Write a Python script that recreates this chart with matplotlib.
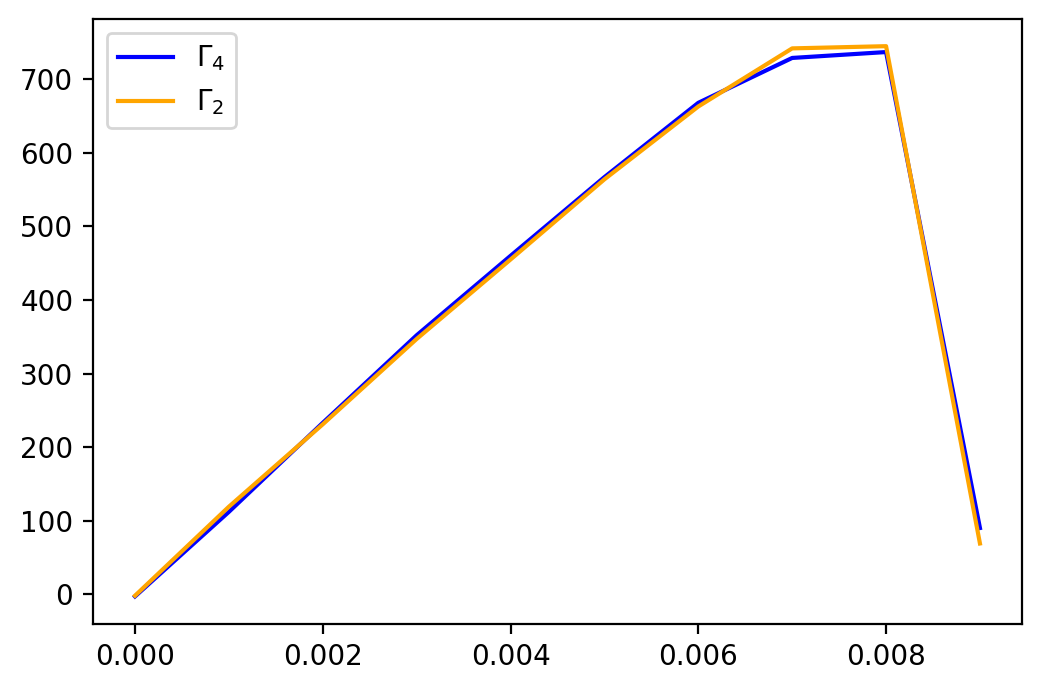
import numpy as np
import matplotlib
matplotlib.use("Agg")
import matplotlib.pyplot as plt

x = [0.000, 0.001, 0.002, 0.003, 0.004, 0.005, 0.006, 0.007, 0.008, 0.009]
gamma4 = [-3, 112, 233, 352, 460, 567, 668, 729, 737, 90]
gamma2 = [-2, 119, 231, 347, 455, 564, 663, 742, 745, 69]

fig = plt.figure(figsize=(5.21, 3.455), dpi=200)
plt.plot(x, gamma4, color='blue', label=r'$\Gamma_4$')
plt.plot(x, gamma2, color='orange', label=r'$\Gamma_2$')
plt.legend(loc='upper left')
plt.subplots_adjust(left=0.089, right=0.981, top=0.973, bottom=0.097)
fig.savefig("out.png", dpi=200)
